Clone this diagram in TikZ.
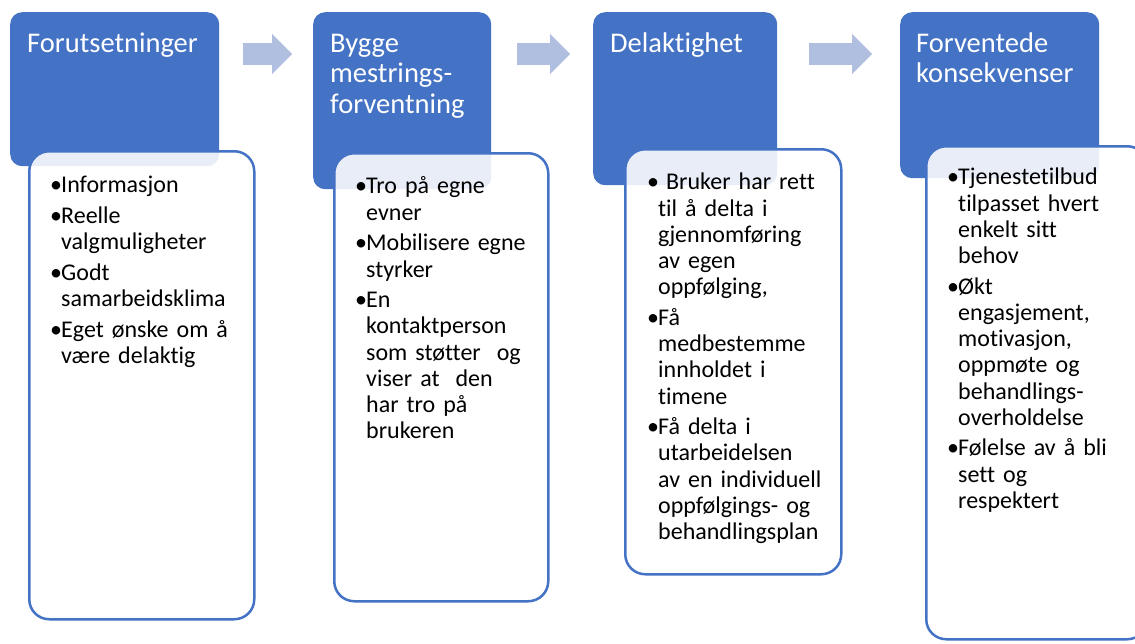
\documentclass[tikz,border=0pt]{standalone}
\usepackage{fontspec}
\setmainfont{Carlito}[Ligatures=NoCommon]
\usepackage{xcolor}
\usepackage{tikz}
\usetikzlibrary{arrows.meta,positioning}

\definecolor{officeblaa}{RGB}{68,114,196}
\definecolor{pilblaa}{RGB}{176,190,224}

% ett kulepunkt med hengende innrykk
\newcommand{\punkt}[1]{\par\hangindent=11pt\hangafter=1\noindent\rule{0pt}{19pt}\makebox[11pt][l]{•}#1\par}

\begin{document}
\begin{tikzpicture}[
    x=1pt, y=-1pt,
    blaaboks/.style={rectangle, fill=officeblaa, rounded corners=12pt, anchor=north west, inner sep=0pt},
    hvitboks/.style={rectangle, draw=officeblaa, line width=2.5pt, fill=white, fill opacity=0.88, rounded corners=20pt, anchor=north west, inner sep=0pt},
    tittel/.style={inner sep=0pt, text=white, align=left, font=\fontsize{28.5pt}{30.5pt}\selectfont},
    punkter/.style={inner sep=0pt, text width=200pt, align=left, font=\fontsize{24pt}{26.2pt}\selectfont\setlength{\parskip}{4.5pt}},
    blokkpil/.style={-{Triangle[length=20pt, width=40pt, line width=0pt]}, line width=22pt, draw=pilblaa}
]
    \useasboundingbox (0,0) rectangle (1135,643);
    \clip (0,0) rectangle (1135,643);

    % overskriftsbokser
    \node [blaaboks, minimum width=209pt, minimum height=154pt] (b1) at (10,12) {};
    \node [blaaboks, minimum width=178pt, minimum height=177pt] (b2) at (313,12) {};
    \node [blaaboks, minimum width=184pt, minimum height=173pt] (b3) at (593,12) {};
    \node [blaaboks, minimum width=199pt, minimum height=166pt] (b4) at (900,12) {};

    \node [tittel, below right=16pt and 17pt of b1.north west] (t1) {\rule{0pt}{24pt}Forutsetninger};
    \node [tittel, below right=16pt and 17pt of b2.north west] (t2) {\rule{0pt}{24pt}Bygge\\mestrings-\\forventning};
    \node [tittel, below right=16pt and 17pt of b3.north west] (t3) {\rule{0pt}{24pt}Delaktighet};
    \node [tittel, below right=16pt and 16pt of b4.north west] (t4) {\rule{0pt}{24pt}Forventede\\konsekvenser};

    % innholdsbokser
    \node [hvitboks, minimum width=225pt, minimum height=468pt] (w1) at (28,150) {};
    \node [hvitboks, minimum width=214pt, minimum height=448pt] (w2) at (333,152) {};
    \node [hvitboks, minimum width=216pt, minimum height=425pt] (w3) at (624,148) {};
    \node [hvitboks, minimum width=221pt, minimum height=493pt] (w4) at (925,145) {};

    \node [punkter, below right=12pt and 22pt of w1.north west] (l1) {%
        \punkt{Informasjon}
        \punkt{Reelle\newline valgmuligheter}
        \punkt{Godt\newline samarbeidsklima}
        \punkt{Eget ønske om å\newline være delaktig}};
    \node [punkter, below right=11pt and 22pt of w2.north west] (l2) {%
        \punkt{Tro på egne\newline evner}
        \punkt{Mobilisere egne\newline styrker}
        \punkt{En\newline kontaktperson\newline som støtter\ \ og\newline viser at\ \ den\newline har tro på\newline brukeren}};
    \node [punkter, below right=11pt and 23pt of w3.north west] (l3) {%
        \punkt{\ Bruker har rett\newline til å delta i\newline gjennomføring\newline av egen\newline oppfølging,}
        \punkt{Få\newline medbestemme\newline innholdet i\newline timene}
        \punkt{Få delta i\newline utarbeidelsen\newline av en individuell\newline oppfølgings- og\newline behandlingsplan}};
    \node [punkter, below right=9pt and 22pt of w4.north west] (l4) {%
        \punkt{Tjenestetilbud\newline tilpasset hvert\newline enkelt sitt\newline behov}
        \punkt{Økt\newline engasjement,\newline motivasjon,\newline oppmøte og\newline behandlings-\newline overholdelse}
        \punkt{Følelse av å bli\newline sett og\newline respektert}};

    % piler mellom trinnene
    \coordinate (p1a) at (243,54);
    \coordinate (p1b) at (292,54);
    \coordinate (p2a) at (517,54);
    \coordinate (p2b) at (570,54);
    \coordinate (p3a) at (809,54);
    \coordinate (p3b) at (872,54);

    \draw [blokkpil] (p1a) -- (p1b);
    \draw [blokkpil] (p2a) -- (p2b);
    \draw [blokkpil] (p3a) -- (p3b);
\end{tikzpicture}
\end{document}
